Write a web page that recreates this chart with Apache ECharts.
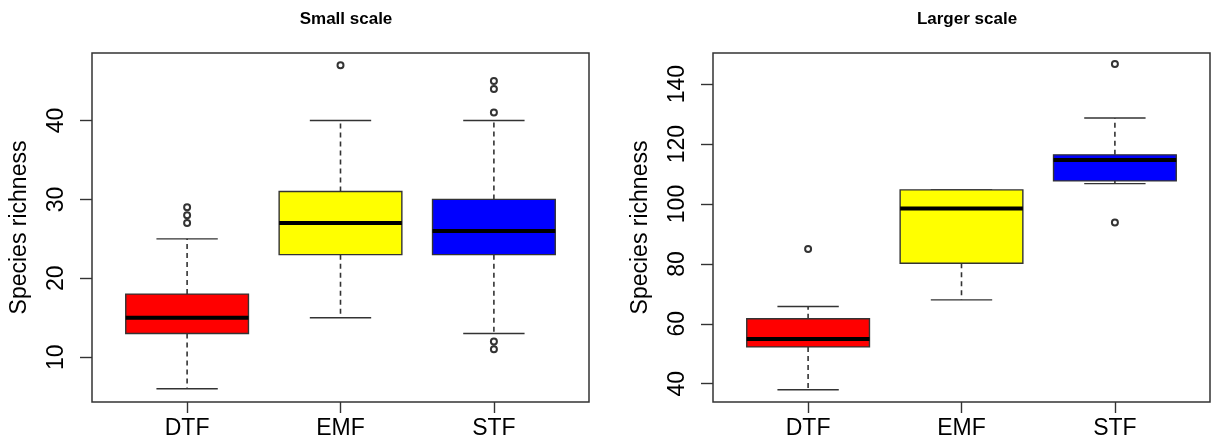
<!DOCTYPE html>
<html>
<head>
<meta charset="utf-8">
<script src="https://cdn.jsdelivr.net/npm/echarts@6/dist/echarts.min.js"></script>
<style>
  html, body { margin: 0; padding: 0; background: #fff; }
  #chart { width: 1211px; height: 446px; }
</style>
</head>
<body>
<div id="chart"></div>
<script>
const cats = ['DTF', 'EMF', 'STF'];
const boxColors = ['#ff0000', '#ffff00', '#0000ff'];

// [lower whisker, Q1, median, Q3, upper whisker]
const smallStats = [
  [6, 13, 15, 18, 25],
  [15, 23, 27, 31, 40],
  [13, 23, 26, 30, 40]
];
const smallOutliers = [[27, 28, 29], [47], [11, 12, 41, 44, 45]];

const largeStats = [
  [38, 52.3, 54.9, 61.7, 65.8],
  [68, 80.2, 98.5, 104.7, 104.7],
  [106.8, 107.7, 114.7, 116.4, 128.7]
];
const largeOutliers = [[85], [], [93.8, 146.7]];

const smallTicks = [10, 20, 30, 40];
const largeTicks = [40, 60, 80, 100, 120, 140];

const font = 'Liberation Sans, Arial, sans-serif';
const frame = '#333';

function boxData(stats) {
  return stats.map((s, i) => [i + 1].concat(s));
}

function outlierData(out) {
  const res = [];
  out.forEach((vals, i) => vals.forEach(v => res.push([i + 1, v])));
  return res;
}

function renderBox(params, api) {
  const x = api.value(0);
  const lo = api.coord([x, api.value(1)]);
  const q1 = api.coord([x, api.value(2)]);
  const med = api.coord([x, api.value(3)]);
  const q3 = api.coord([x, api.value(4)]);
  const hi = api.coord([x, api.value(5)]);
  const boxW = api.size([0.8, 0])[0];
  const capW = api.size([0.4, 0])[0];
  const cx = lo[0];
  const dash = { stroke: frame, lineWidth: 1.6, lineDash: [5, 4] };
  const solid = { stroke: frame, lineWidth: 1.4 };
  return {
    type: 'group',
    children: [
      { type: 'line', shape: { x1: cx, y1: q3[1], x2: cx, y2: hi[1] }, style: dash },
      { type: 'line', shape: { x1: cx, y1: q1[1], x2: cx, y2: lo[1] }, style: dash },
      { type: 'line', shape: { x1: cx - capW / 2, y1: hi[1], x2: cx + capW / 2, y2: hi[1] }, style: solid },
      { type: 'line', shape: { x1: cx - capW / 2, y1: lo[1], x2: cx + capW / 2, y2: lo[1] }, style: solid },
      {
        type: 'rect',
        shape: { x: cx - boxW / 2, y: q3[1], width: boxW, height: q1[1] - q3[1] },
        style: { fill: boxColors[params.dataIndex], stroke: frame, lineWidth: 1.4 }
      },
      { type: 'line', shape: { x1: cx - boxW / 2, y1: med[1], x2: cx + boxW / 2, y2: med[1] }, style: { stroke: '#000', lineWidth: 4 } }
    ]
  };
}

function xAxisFor(idx) {
  return {
    type: 'value', gridIndex: idx, min: 0.38, max: 3.62,
    axisLine: { show: false },
    splitLine: { show: false },
    axisTick: { show: true, customValues: [1, 2, 3], length: 11, lineStyle: { color: frame, width: 1.4 } },
    axisLabel: {
      customValues: [1, 2, 3], margin: 15,
      formatter: v => cats[Math.round(v) - 1],
      fontSize: 23, color: '#000', fontFamily: font
    }
  };
}

function yAxisFor(idx, min, max, ticks) {
  return {
    type: 'value', gridIndex: idx, min: min, max: max,
    name: 'Species richness', nameLocation: 'middle', nameRotate: 90, nameGap: 61,
    nameTextStyle: { fontSize: 23, color: '#000', fontFamily: font },
    axisLine: { show: false },
    splitLine: { show: false },
    axisTick: { show: true, customValues: ticks, length: 12, lineStyle: { color: frame, width: 1.4 } },
    axisLabel: {
      customValues: ticks, rotate: 90, margin: 24,
      fontSize: 23, color: '#000', fontFamily: font
    }
  };
}

const chart = echarts.init(document.getElementById('chart'));
chart.setOption({
  animation: false,
  title: [
    { text: 'Small scale', left: 341, top: 6, textAlign: 'center',
      textStyle: { fontSize: 17, fontWeight: 'bold', color: '#000', fontFamily: font } },
    { text: 'Larger scale', left: 962, top: 6, textAlign: 'center',
      textStyle: { fontSize: 17, fontWeight: 'bold', color: '#000', fontFamily: font } }
  ],
  grid: [
    { left: 92, right: 622, top: 53, bottom: 44, show: true, borderColor: frame, borderWidth: 1.5 },
    { left: 713, right: 1, top: 53, bottom: 44, show: true, borderColor: frame, borderWidth: 1.5 }
  ],
  xAxis: [xAxisFor(0), xAxisFor(1)],
  yAxis: [yAxisFor(0, 4.33, 48.55, smallTicks), yAxisFor(1, 33.9, 150.4, largeTicks)],
  series: [
    { type: 'custom', xAxisIndex: 0, yAxisIndex: 0, renderItem: renderBox, data: boxData(smallStats) },
    { type: 'custom', xAxisIndex: 1, yAxisIndex: 1, renderItem: renderBox, data: boxData(largeStats) },
    { type: 'scatter', xAxisIndex: 0, yAxisIndex: 0, symbol: 'emptyCircle', symbolSize: 6,
      itemStyle: { color: '#000', borderColor: '#000', borderWidth: 0.9 }, data: outlierData(smallOutliers) },
    { type: 'scatter', xAxisIndex: 1, yAxisIndex: 1, symbol: 'emptyCircle', symbolSize: 6,
      itemStyle: { color: '#000', borderColor: '#000', borderWidth: 0.9 }, data: outlierData(largeOutliers) }
  ]
});
</script>
</body>
</html>
